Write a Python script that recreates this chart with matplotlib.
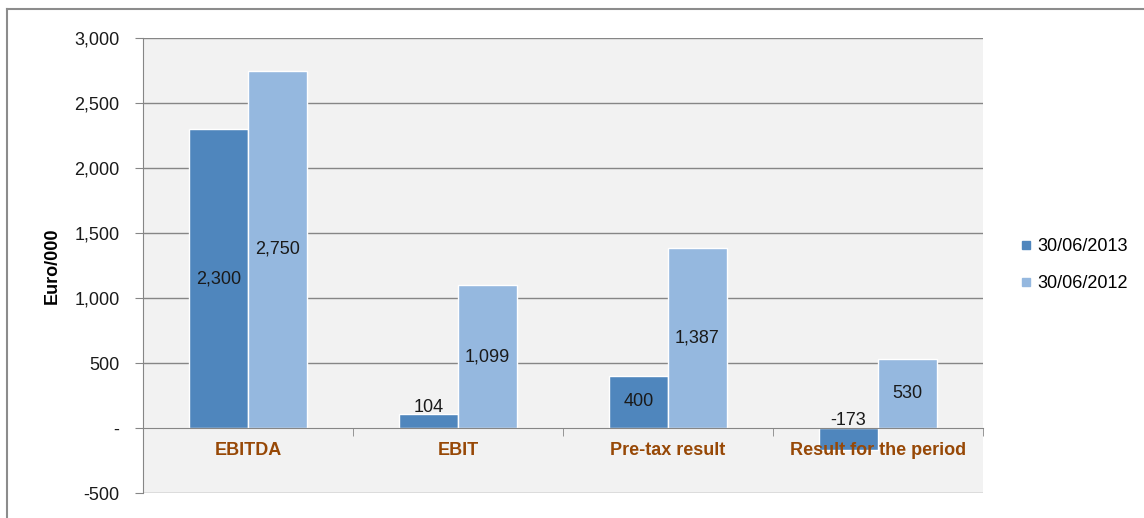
import numpy as np
import matplotlib
matplotlib.use("Agg")
import matplotlib.pyplot as plt
from matplotlib.lines import Line2D
from matplotlib.ticker import FuncFormatter, FixedLocator

plt.rcParams['font.family'] = ['Liberation Sans', 'DejaVu Sans']

categorias = ['EBITDA', 'EBIT', 'Pre-tax result', 'Result for the period']
valores_2013 = [2300, 104, 400, -173]
valores_2012 = [2750, 1099, 1387, 530]
series = ['30/06/2013', '30/06/2012']
colores = ['#4f86bd', '#95b8df']
ticks_y = np.arange(-500, 3001, 500)

fig = plt.figure(figsize=(11.44, 5.18), dpi=100)
ax = fig.add_axes([143 / 1144, 1 - 493 / 518, 840 / 1144, 455 / 518])
ax.set_facecolor('#f2f2f2')

x = np.arange(len(categorias))
ancho = 0.28
for i, (vals, col) in enumerate(zip([valores_2013, valores_2012], colores)):
    pos = x + (i - 0.5) * ancho
    ax.bar(pos, vals, ancho, color=col, edgecolor='white', linewidth=1, zorder=3)
    for xp, v in zip(pos, vals):
        if abs(v) < 200:
            yp = max(v, 0) + 55
        else:
            yp = v / 2
        ax.text(xp, yp, f'{v:,}', ha='center', va='center', fontsize=13,
                color='#1a1a1a', zorder=4)

# lineas de cuadricula debajo de las barras
for t in ticks_y:
    if t != 0:
        ax.axhline(t, color='#868686', linewidth=1, zorder=0)

ax.set_xlim(-0.5, 3.5)
ax.set_ylim(-500, 3000)
ax.yaxis.set_major_locator(FixedLocator(ticks_y))
ax.yaxis.set_major_formatter(FuncFormatter(lambda v, p: '-' if v == 0 else f'{v:,.0f}'))

for s in ['top', 'right']:
    ax.spines[s].set_visible(False)
ax.spines['left'].set_color('#868686')
ax.spines['bottom'].set_position(('data', 0))
ax.spines['bottom'].set_color('#868686')
ax.spines['bottom'].set_zorder(5)
ax.xaxis.set_zorder(6)

ax.set_xticks(x)
ax.set_xticklabels(categorias, fontsize=13, fontweight='bold', color='#974806')
ax.set_xticks(np.arange(0.5, 4, 1), minor=True)
ax.tick_params(axis='x', which='major', length=0, pad=10)
ax.tick_params(axis='x', which='minor', length=6, direction='out', color='#868686')
ax.tick_params(axis='y', length=6, direction='out', color='#868686', labelsize=13,
               pad=11, labelcolor='#1a1a1a')

ax.set_ylabel('Euro/000', fontsize=13, fontweight='bold', labelpad=10)

handles = [Line2D([], [], marker='s', linestyle='', markersize=6,
                  markerfacecolor=c, markeredgecolor=c) for c in colores]
fig.legend(handles, series, loc='center left', bbox_to_anchor=(1010 / 1144, 1 - 265 / 518),
           frameon=False, fontsize=13, handlelength=0.8, handletextpad=0.2,
           labelspacing=1.1, borderpad=0)

# marco exterior del grafico
fig.add_artist(Line2D([7 / 1144, 1], [1 - 9 / 518, 1 - 9 / 518], color='#8c8c8c',
                      linewidth=1.5, transform=fig.transFigure))
fig.add_artist(Line2D([7 / 1144, 7 / 1144], [0, 1 - 9 / 518], color='#8c8c8c',
                      linewidth=1.5, transform=fig.transFigure))

fig.savefig('out.png', dpi=100, facecolor='white')
